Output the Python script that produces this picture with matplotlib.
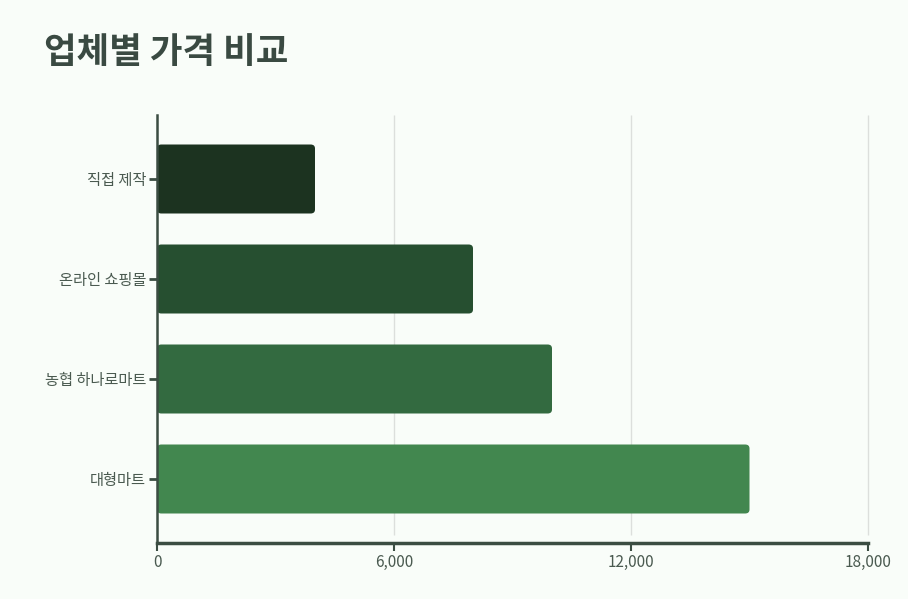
import matplotlib.pyplot as plt
from matplotlib.patches import FancyBboxPatch
from matplotlib.ticker import FuncFormatter

plt.rcParams['font.family'] = ['Noto Sans CJK KR', 'DejaVu Sans']

# data
stores = ['직접 제작', '온라인 쇼핑몰', '농협 하나로마트', '대형마트']
prices = [4000, 8000, 10000, 15000]
colors = ['#1c3320', '#264f30', '#336a40', '#42874f']
xticks = [0, 6000, 12000, 18000]

bg = '#f9fdf9'
dark = '#3b4d42'

fig = plt.figure(figsize=(9.08, 5.99), dpi=100, facecolor=bg)
W, H = 908, 599
ax = fig.add_axes([157 / W, (H - 543) / H, (868 - 157) / W, (543 - 115) / H])
ax.set_facecolor(bg)

ypos = list(range(len(stores)))
bars = ax.barh(ypos, prices, height=0.69, color=colors)
# swap bars for rounded ones
for b, c in zip(bars, colors):
    b.set_visible(False)
    p = FancyBboxPatch((b.get_x(), b.get_y()), b.get_width(), b.get_height(),
                       boxstyle='round,pad=0,rounding_size=110',
                       mutation_aspect=0.04 / 110, fc=c, ec='none', zorder=2)
    ax.add_patch(p)

ax.set_xlim(0, 18000)
ax.set_ylim(3.64, -0.64)
ax.set_yticks(ypos)
ax.set_yticklabels(stores)
ax.set_xticks(xticks)
ax.xaxis.set_major_formatter(FuncFormatter(lambda v, _: f'{int(v):,}'))

# vertical grid, stops a bit above the x axis line
ax.vlines(xticks[1:], 3.56, -0.64, colors='#dcdfdc', lw=1, zorder=0, clip_on=False)

for s in ['top', 'right']:
    ax.spines[s].set_visible(False)
ax.spines['left'].set_color(dark)
ax.spines['left'].set_linewidth(1.8)
ax.spines['bottom'].set_color(dark)
ax.spines['bottom'].set_linewidth(2.5)

ax.tick_params(axis='y', length=6, width=2, color=dark, labelcolor='#4a5a50',
               labelsize=11, pad=2)
ax.tick_params(axis='x', length=6, width=1.5, color=dark, labelcolor='#4a5a50',
               labelsize=11, pad=2)

fig.text(44 / W, 1 - 53 / H, '업체별 가격 비교', fontsize=25.5, fontweight='black',
         color='#3a4a42', va='center', ha='left')

fig.savefig('out.png', dpi=100, facecolor=bg)
